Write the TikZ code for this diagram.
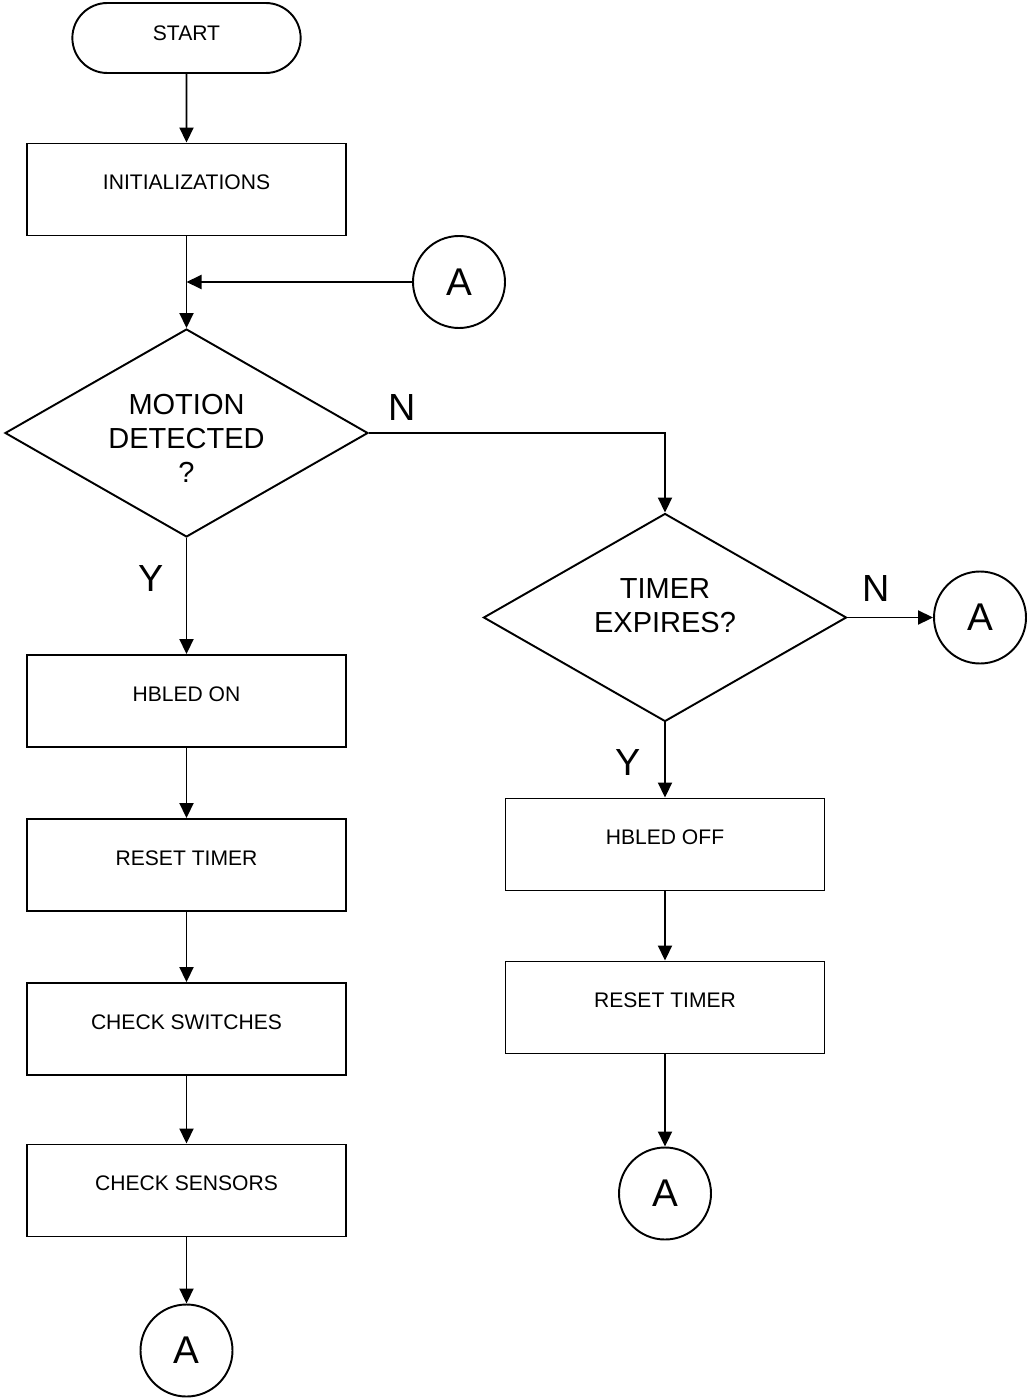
\documentclass[tikz,border=0pt]{standalone}
\usepackage{fontspec}
\setmainfont{Liberation Sans}
\usetikzlibrary{shapes.geometric, shapes.misc, arrows.meta}

\begin{document}
\begin{tikzpicture}[line width=1.1pt, >={Triangle[length=0.3cm, width=0.28cm]},
	term/.style={draw, rounded rectangle, minimum width=4.8cm, minimum height=1.4cm, font=\fontsize{12}{14}\selectfont, text height=0.35cm, text depth=0.25cm},
	proc/.style={draw, rectangle, minimum width=6.38cm, minimum height=1.84cm, font=\fontsize{12}{14}\selectfont, text height=0.32cm, text depth=0.32cm},
	decide/.style={draw, diamond, aspect=1.75, minimum width=7.26cm, minimum height=4.16cm, inner sep=0pt, align=center, font=\fontsize{16.5}{19.35}\selectfont},
	conn/.style={draw, circle, minimum size=1.84cm, inner sep=0pt, font=\fontsize{22}{26}\selectfont},
	yn/.style={font=\fontsize{21.5}{26}\selectfont}]
	\useasboundingbox (0,0) rectangle (20.52,-27.98);

	\node[term](start) at (3.73,-0.76) {START};
	\node[proc](init) at (3.73,-3.79) {INITIALIZATIONS};
	\node[conn](conA1) at (9.18,-5.64) {A};
	\coordinate (join) at (init.south |- conA1.west);

	\node[decide, text height=1.98cm, text depth=0cm](motion) at (3.73,-8.66) {MOTION\\DETECTED\\?};
	\node[proc](hbon) at (3.73,-14.02) {HBLED ON};
	\node[proc](rst1) at (3.73,-17.3) {RESET TIMER};
	\node[proc](chksw) at (3.73,-20.58) {CHECK SWITCHES};
	\node[proc](chkse) at (3.73,-23.81) {CHECK SENSORS};
	\node[conn](conA4) at (3.73,-27.01) {A};

	\node[decide, text height=0.9cm, text depth=0.32cm](timer) at (13.3,-12.35) {TIMER\\EXPIRES?};
	\node[conn](conA2) at (19.6,-12.35) {A};
	\node[proc](hboff) at (13.3,-16.89) {HBLED OFF};
	\node[proc](rst2) at (13.3,-20.15) {RESET TIMER};
	\node[conn](conA3) at (13.3,-23.87) {A};

	\node[yn](n1) at (8.04,-8.16) {N};
	\node[yn](y1) at (3.02,-11.56) {Y};
	\node[yn](n2) at (17.52,-11.76) {N};
	\node[yn](y2) at (12.56,-15.24) {Y};

	\draw[->](start) -- (init);
	\draw[->](init) -- (motion);
	\draw[->](conA1) -- (join);
	\draw[->](motion) -- (hbon);
	\draw[->](hbon) -- (rst1);
	\draw[->](rst1) -- (chksw);
	\draw[->](chksw) -- (chkse);
	\draw[->](chkse) -- (conA4);

	\draw[->](motion.east) -| (timer.north);
	\draw[->](timer) -- (conA2);
	\draw[->](timer) -- (hboff);
	\draw[->](hboff) -- (rst2);
	\draw[->](rst2) -- (conA3);
\end{tikzpicture}
\end{document}
